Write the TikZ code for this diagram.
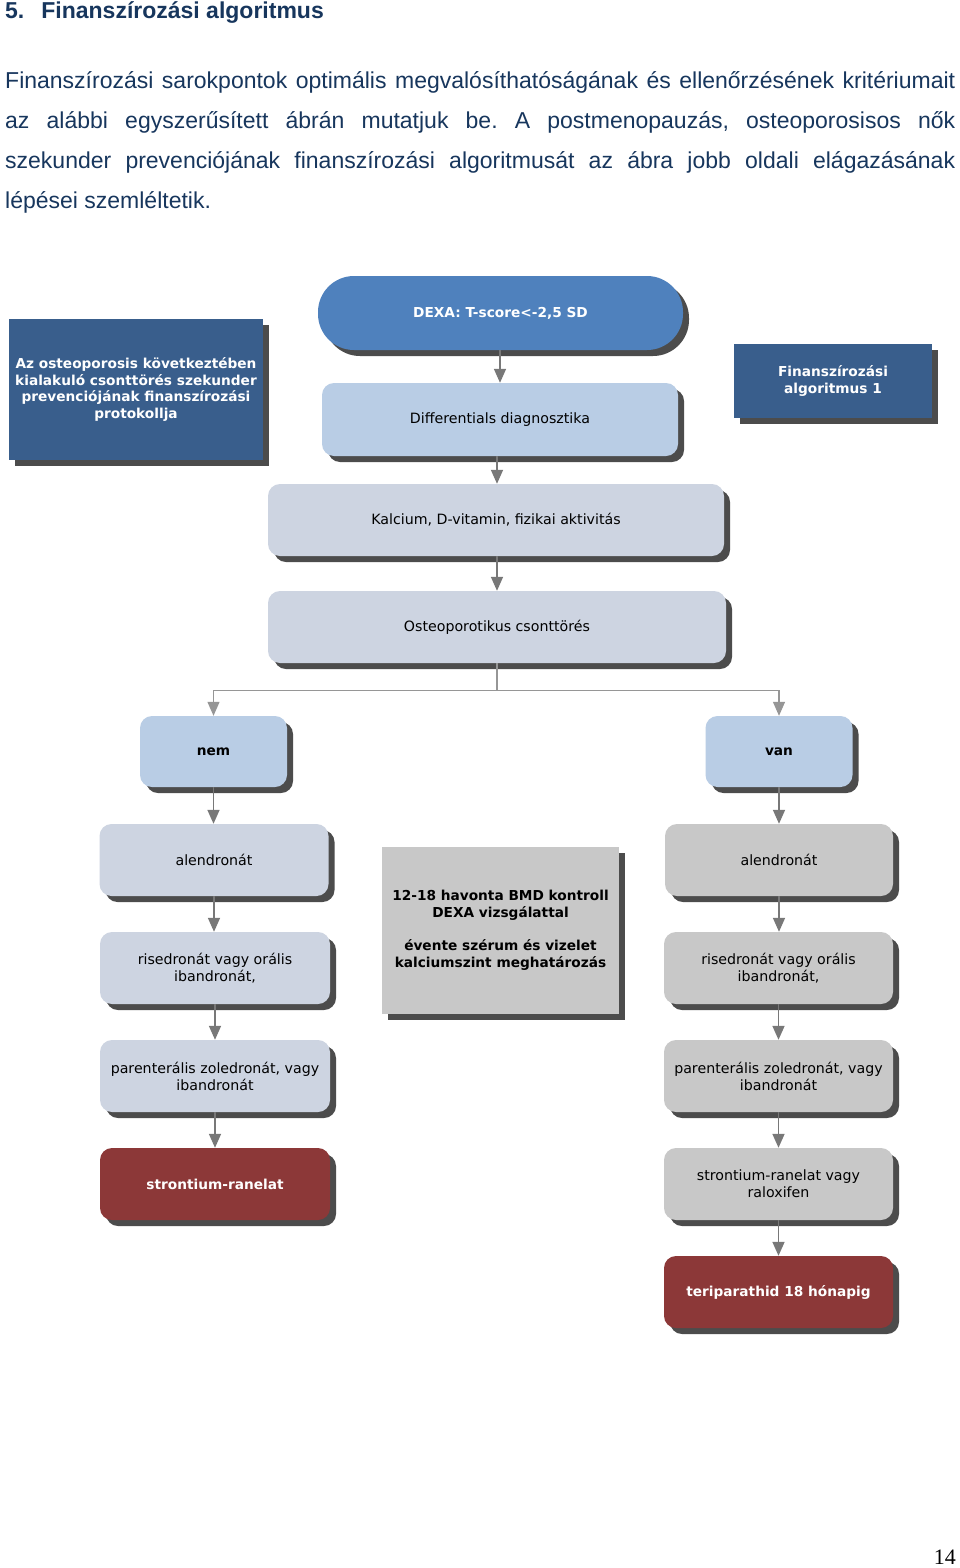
\documentclass[tikz,border=0pt]{standalone}
\usepackage{fontspec}
\setmainfont{Liberation Sans}
\newfontfamily\dv{DejaVu Sans}
\newfontfamily\pnfont{Liberation Serif}
\usetikzlibrary{arrows.meta,shadows}
\definecolor{navy}{RGB}{23,54,93}
\definecolor{midblue}{RGB}{79,129,189}
\definecolor{darkblue}{RGB}{57,94,140}
\definecolor{lightblue}{RGB}{185,205,229}
\definecolor{grayblue}{RGB}{205,212,225}
\definecolor{grayfill}{RGB}{200,200,200}
\definecolor{darkred}{RGB}{140,56,56}
\definecolor{arrowgray}{RGB}{120,120,120}
\definecolor{linegray}{RGB}{150,150,150}
\tikzset{
  box/.style={draw=none, inner sep=2pt, align=center, text=black,
    font=\dv\fontsize{14.2}{17}\selectfont,
    general shadow={shadow xshift=6pt, shadow yshift=-6pt, fill=black!70}},
  rbox/.style={box, rounded corners=12pt},
  boldtxt/.style={font=\dv\bfseries\fontsize{13.7}{16.8}\selectfont},
  lbbox/.style={rbox, fill=lightblue},
  gbbox/.style={rbox, fill=grayblue},
  grbox/.style={rbox, fill=grayfill},
  redbox/.style={rbox, fill=darkred, boldtxt, text=white},
  hdrbox/.style={box, fill=darkblue, boldtxt, text=white},
  dexabox/.style={box, fill=midblue, boldtxt, text=white, rounded corners=36pt},
  arr/.style={draw=arrowgray, line width=1.6pt, -{Triangle[width=12pt,length=14pt]}},
  branch/.style={draw=linegray, line width=1.2pt},
}
\begin{document}
\begin{tikzpicture}[x=1pt,y=-1pt]
\useasboundingbox (0,0) rectangle (960,1568);
\fill[white] (0,0) rectangle (960,1568);

% text
\node[anchor=west, inner sep=0, text=navy, font=\bfseries\fontsize{23}{26}\selectfont] (title) at (5,13) {5.\hspace{17pt}Finanszírozási algoritmus};
\node[anchor=north west, inner sep=0, text=navy, text width=950pt, align=justify,
  font=\fontsize{23}{40}\selectfont] (para) at (5,71)
  {\frenchspacing\hyphenpenalty=10000\tolerance=10000 Finanszírozási sarokpontok optimális megvalósíthatóságának és ellenőrzésének kritériumait\linebreak
  az alábbi egyszerűsített ábrán mutatjuk be. A postmenopauzás, osteoporosisos nők\linebreak
  szekunder prevenciójának finanszírozási algoritmusát az ábra jobb oldali elágazásának\linebreak
  lépései szemléltetik.};

% nodes
\node[dexabox, minimum width=365pt, minimum height=74pt] (dexa) at (500.5,313) {DEXA: T-score<-2,5 SD};
\node[hdrbox, minimum width=254pt, minimum height=141pt] (proto) at (136,389.5)
  {Az osteoporosis következtében\\kialakuló csonttörés szekunder\\prevenciójának finanszírozási\\protokollja};
\node[hdrbox, minimum width=198pt, minimum height=74pt] (alg) at (833,381) {Finanszírozási\\algoritmus 1};
\node[lbbox, minimum width=356pt, minimum height=73pt] (diff) at (500,419.5) {Differentials diagnosztika};
\node[gbbox, minimum width=456pt, minimum height=72pt] (kalc) at (496,520) {Kalcium, D-vitamin, fizikai aktivitás};
\node[gbbox, minimum width=458pt, minimum height=72pt] (osteo) at (497,627) {Osteoporotikus csonttörés};

\node[lbbox, boldtxt, minimum width=147pt, minimum height=71pt] (nem) at (213.5,751.5) {nem};
\node[lbbox, boldtxt, minimum width=147pt, minimum height=71pt] (van) at (779,751.5) {van};

\node[gbbox, minimum width=229pt, minimum height=72pt] (lal) at (214,860) {alendronát};
\node[gbbox, minimum width=230pt, minimum height=72pt] (lris) at (215,968) {risedronát vagy orális\\ibandronát,};
\node[gbbox, minimum width=230pt, minimum height=72pt] (lpar) at (215,1076) {parenterális zoledronát, vagy\\ibandronát};
\node[redbox, minimum width=230pt, minimum height=72pt] (lstr) at (215,1184) {strontium-ranelat};

\node[grbox, minimum width=228pt, minimum height=72pt] (ral) at (779,860) {alendronát};
\node[grbox, minimum width=229pt, minimum height=72pt] (rris) at (778.5,968) {risedronát vagy orális\\ibandronát,};
\node[grbox, minimum width=229pt, minimum height=72pt] (rpar) at (778.5,1076) {parenterális zoledronát, vagy\\ibandronát};
\node[grbox, minimum width=229pt, minimum height=72pt] (rstr) at (778.5,1184) {strontium-ranelat vagy\\raloxifen};
\node[redbox, minimum width=229pt, minimum height=72pt] (teri) at (778.5,1292) {teriparathid 18 hónapig};

\node[box, fill=grayfill, boldtxt, minimum width=237pt, minimum height=167pt] (ctrl) at (500.5,930)
  {12-18 havonta BMD kontroll\\DEXA vizsgálattal\\[16.5pt]évente szérum és vizelet\\kalciumszint meghatározás};

% connectors
\draw[arr] (dexa.south -| diff.north) -- (diff.north);
\draw[arr] (diff.south -| osteo.north) -- (kalc.north -| osteo.north);
\draw[arr] (kalc.south -| osteo.north) -- (osteo.north);
\draw[branch] (osteo.south) -- ++(0,27) coordinate (bj);
\draw[branch] (bj) -| ([yshift=9pt]nem.north);
\draw[branch] (bj) -| ([yshift=9pt]van.north);
\draw[arr, line width=1.2pt, draw=linegray] ([yshift=10pt]nem.north) -- (nem.north);
\draw[arr, line width=1.2pt, draw=linegray] ([yshift=10pt]van.north) -- (van.north);

\draw[arr] (nem.south) -- (nem.south |- lal.north);
\draw[arr] (lal.south) -- (lal.south |- lris.north);
\draw[arr] (lris.south) -- (lris.south |- lpar.north);
\draw[arr] (lpar.south) -- (lpar.south |- lstr.north);

\draw[arr] (van.south) -- (van.south |- ral.north);
\draw[arr] (ral.south) -- (ral.south |- rris.north);
\draw[arr] (rris.south) -- (rris.south |- rpar.north);
\draw[arr] (rpar.south) -- (rpar.south |- rstr.north);
\draw[arr] (rstr.south) -- (rstr.south |- teri.north);

\node[anchor=base east, inner sep=0, font=\pnfont\fontsize{22}{24}\selectfont] (pg) at (956,1564) {14};
\end{tikzpicture}
\end{document}
